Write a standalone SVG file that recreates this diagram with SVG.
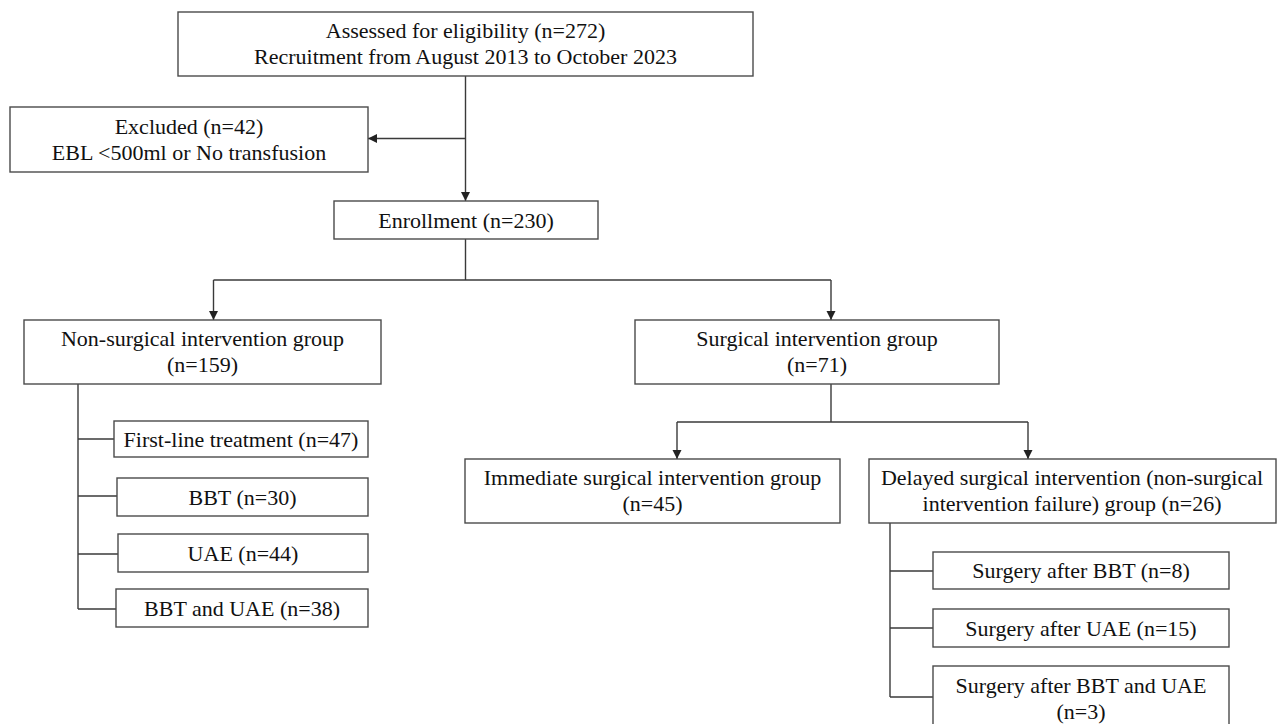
<svg xmlns="http://www.w3.org/2000/svg" width="1277" height="724" viewBox="0 0 1277 724">
<defs>
<style>
.box{fill:#ffffff;stroke:#4a4a4a;stroke-width:1.4}
.ln{fill:none;stroke:#3a3a3a;stroke-width:1.4}
.t{font-family:"Liberation Serif","Times New Roman",serif;font-size:22px;fill:#111111;text-anchor:middle}
</style>
<marker id="ah" markerUnits="userSpaceOnUse" markerWidth="10" markerHeight="10" viewBox="0 0 10 10" refX="9" refY="5" orient="auto">
<path d="M0,0.5 L9,5 L0,9.5 Z" fill="#222222"/>
</marker>
</defs>
<rect width="1277" height="724" fill="#ffffff"/>

<g id="connectors">
<line class="ln" x1="465.5" y1="76" x2="465.5" y2="201" marker-end="url(#ah)"/>
<line class="ln" x1="465.5" y1="138.5" x2="368" y2="138.5" marker-end="url(#ah)"/>
<polyline class="ln" points="465.5,239 465.5,280"/>
<line class="ln" x1="213.5" y1="280" x2="831" y2="280"/>
<line class="ln" x1="213.5" y1="280" x2="213.5" y2="320" marker-end="url(#ah)"/>
<line class="ln" x1="831" y1="280" x2="831" y2="320" marker-end="url(#ah)"/>
<polyline class="ln" points="831,384 831,422"/>
<line class="ln" x1="677" y1="422" x2="1028" y2="422"/>
<line class="ln" x1="677" y1="422" x2="677" y2="459" marker-end="url(#ah)"/>
<line class="ln" x1="1028" y1="422" x2="1028" y2="459" marker-end="url(#ah)"/>
<polyline class="ln" points="78,384 78,609"/>
<line class="ln" x1="78" y1="439" x2="114" y2="439"/>
<line class="ln" x1="78" y1="496" x2="117" y2="496"/>
<line class="ln" x1="78" y1="554" x2="118" y2="554"/>
<line class="ln" x1="78" y1="609" x2="116" y2="609"/>
<polyline class="ln" points="890,523 890,697"/>
<line class="ln" x1="890" y1="571" x2="933" y2="571"/>
<line class="ln" x1="890" y1="628" x2="933" y2="628"/>
<line class="ln" x1="890" y1="697" x2="933" y2="697"/>
</g>

<g id="assessed">
<rect class="box" x="178" y="12" width="575" height="64"/>
<text class="t" x="465.5" y="38">Assessed for eligibility (n=272)</text>
<text class="t" x="465.5" y="64">Recruitment from August 2013 to October 2023</text>
</g>

<g id="excluded">
<rect class="box" x="10" y="107" width="358" height="65"/>
<text class="t" x="189" y="133.5">Excluded (n=42)</text>
<text class="t" x="189" y="159.5">EBL &lt;500ml or No transfusion</text>
</g>

<g id="enrollment">
<rect class="box" x="334" y="201" width="264" height="38"/>
<text class="t" x="466" y="227.5">Enrollment (n=230)</text>
</g>

<g id="nonsurgical">
<rect class="box" x="24" y="320" width="357" height="64"/>
<text class="t" x="202.5" y="346">Non-surgical intervention group</text>
<text class="t" x="202.5" y="372">(n=159)</text>
</g>

<g id="surgical">
<rect class="box" x="635" y="320" width="364" height="64"/>
<text class="t" x="817" y="346">Surgical intervention group</text>
<text class="t" x="817" y="372">(n=71)</text>
</g>

<g id="firstline">
<rect class="box" x="114" y="421" width="254" height="36"/>
<text class="t" x="241" y="446.5">First-line treatment (n=47)</text>
</g>

<g id="bbt">
<rect class="box" x="117" y="478" width="251" height="38"/>
<text class="t" x="242.5" y="504.5">BBT (n=30)</text>
</g>

<g id="uae">
<rect class="box" x="118" y="534" width="250" height="38"/>
<text class="t" x="243" y="560.5">UAE (n=44)</text>
</g>

<g id="bbtuae">
<rect class="box" x="116" y="589" width="252" height="38"/>
<text class="t" x="242" y="615.5">BBT and UAE (n=38)</text>
</g>

<g id="immediate">
<rect class="box" x="465" y="459" width="375" height="64"/>
<text class="t" x="652.5" y="485">Immediate surgical intervention group</text>
<text class="t" x="652.5" y="511">(n=45)</text>
</g>

<g id="delayed">
<rect class="box" x="869" y="459" width="407" height="64"/>
<text class="t" x="1072" y="485">Delayed surgical intervention (non-surgical</text>
<text class="t" x="1072" y="511">intervention failure) group (n=26)</text>
</g>

<g id="after-bbt">
<rect class="box" x="933" y="552" width="296" height="37"/>
<text class="t" x="1081" y="578">Surgery after BBT (n=8)</text>
</g>

<g id="after-uae">
<rect class="box" x="933" y="609" width="296" height="38"/>
<text class="t" x="1081" y="635.5">Surgery after UAE (n=15)</text>
</g>

<g id="after-bbt-uae">
<rect class="box" x="933" y="666" width="296" height="66"/>
<text class="t" x="1081" y="693">Surgery after BBT and UAE</text>
<text class="t" x="1081" y="719">(n=3)</text>
</g>
</svg>
